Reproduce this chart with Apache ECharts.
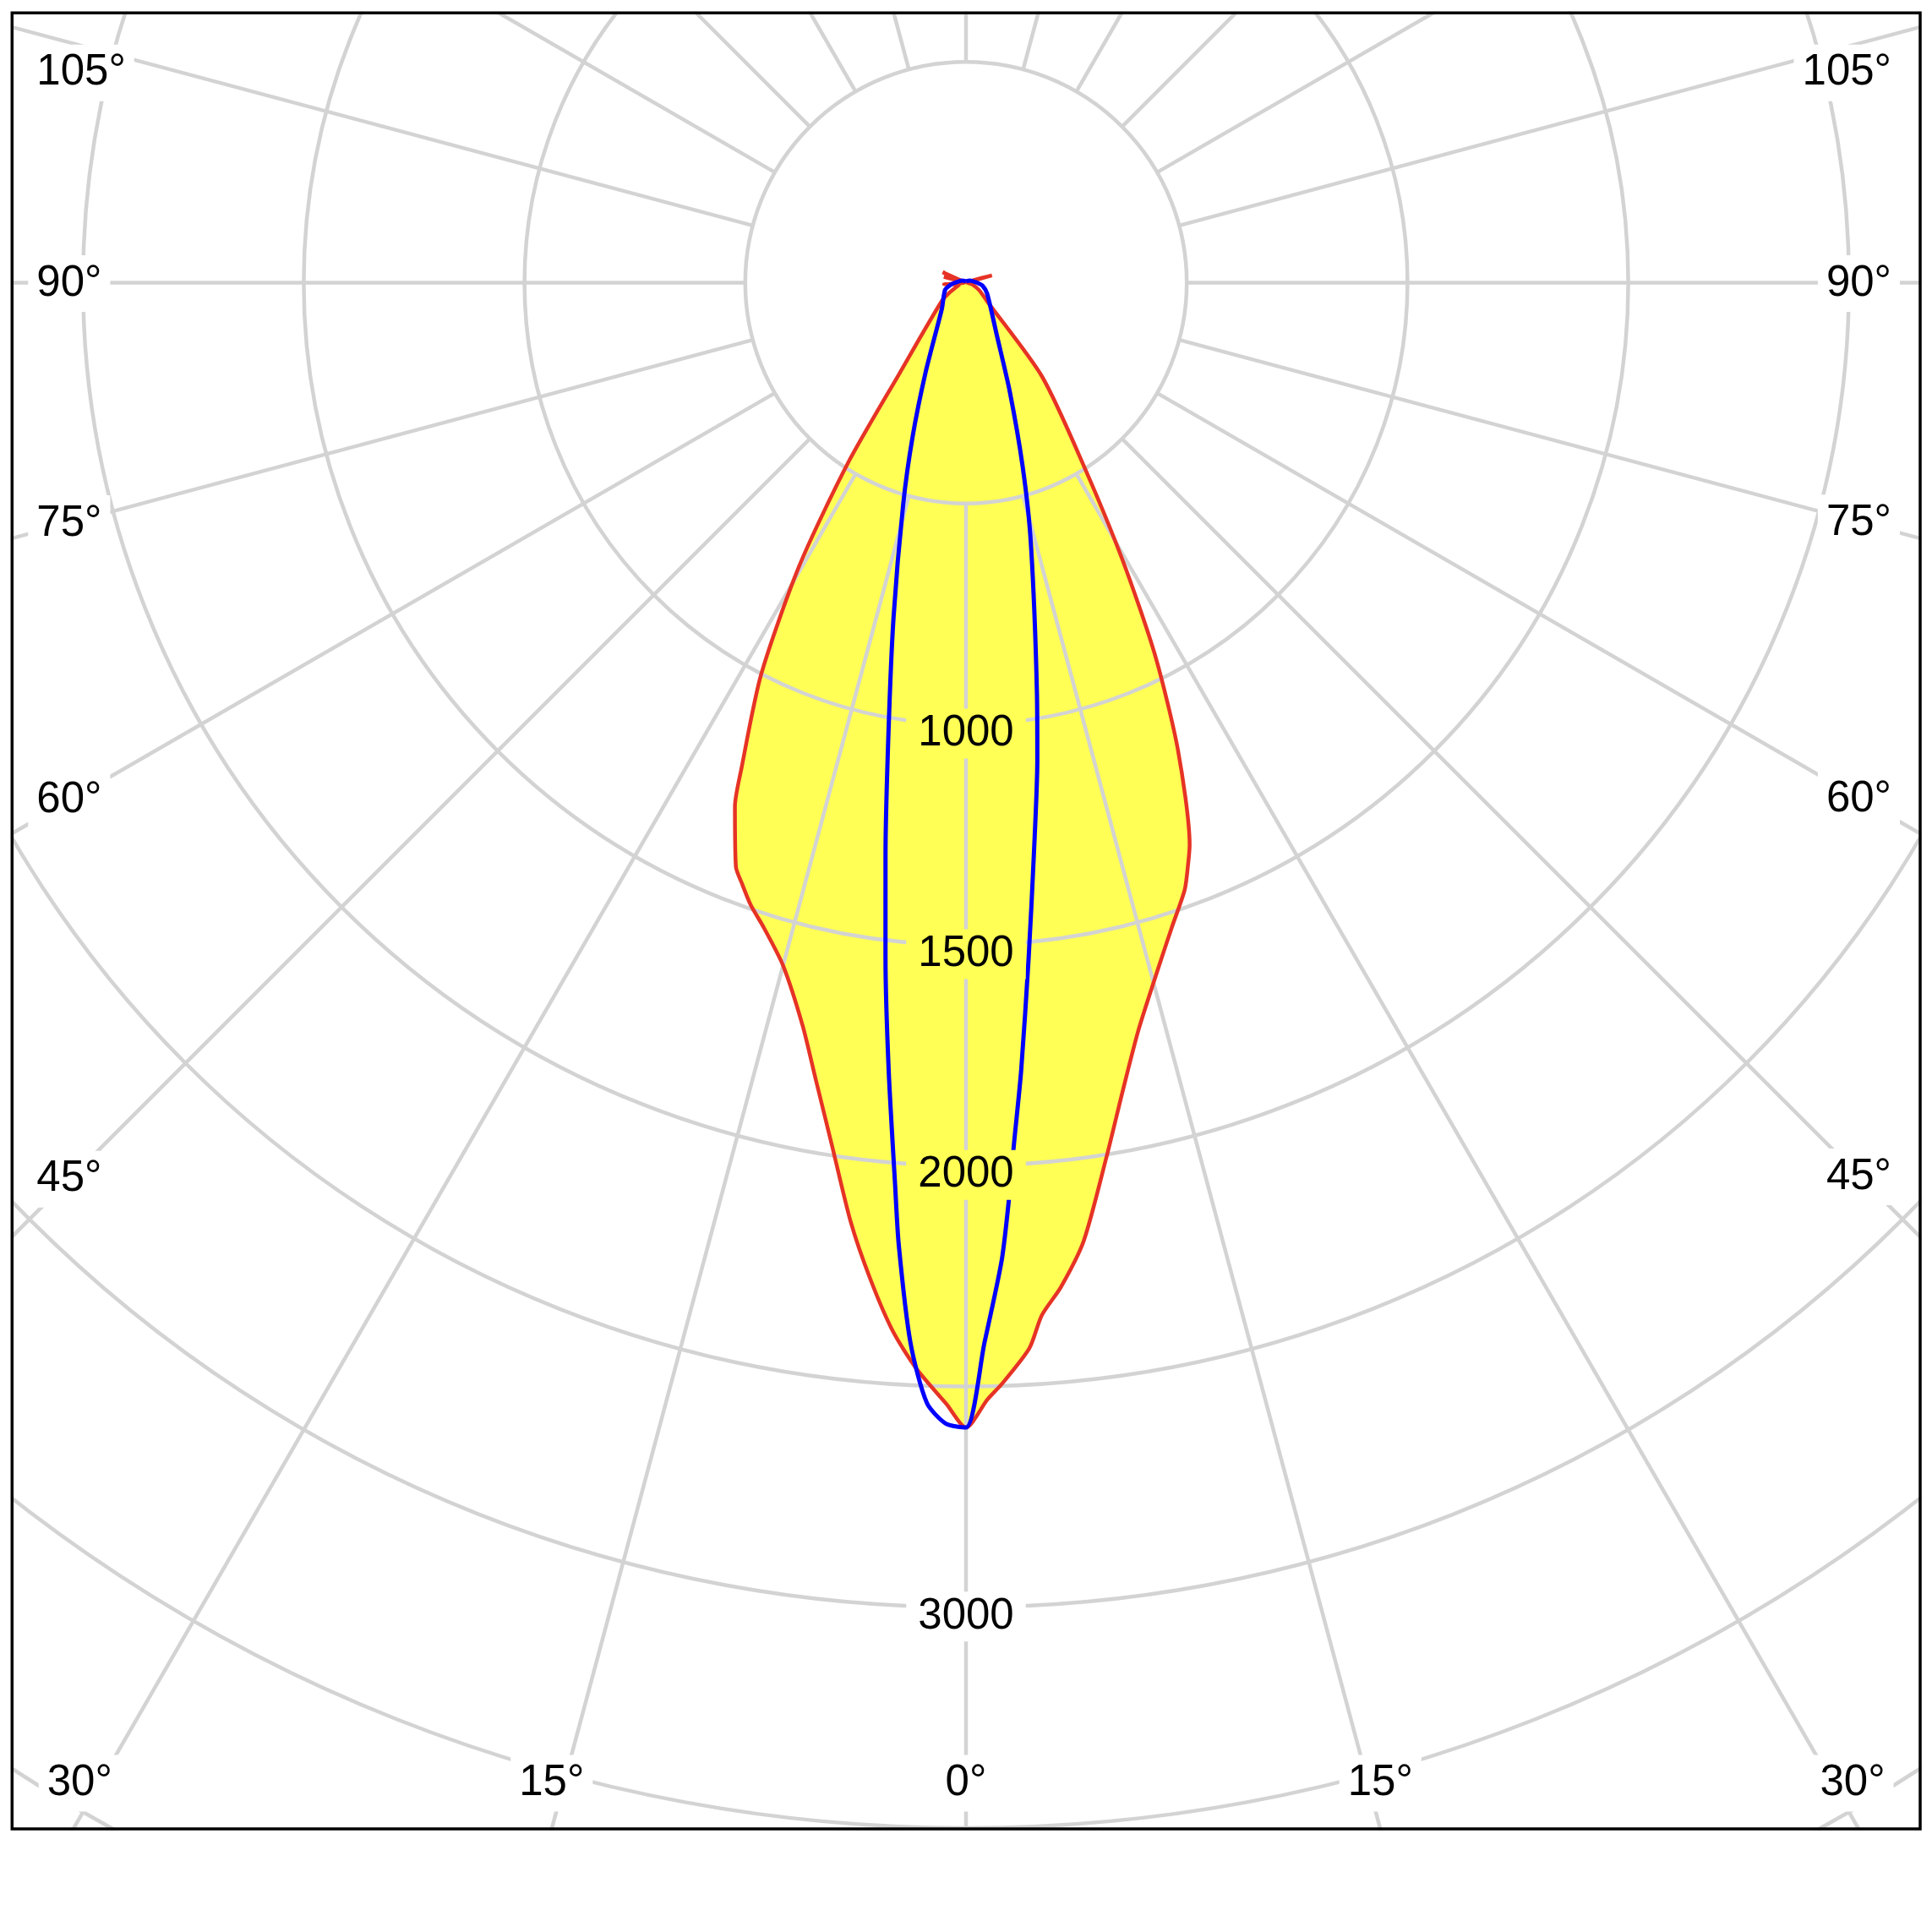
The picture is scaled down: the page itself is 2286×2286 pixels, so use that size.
<!DOCTYPE html>
<html>
<head>
<meta charset="utf-8">
<script src="https://cdn.jsdelivr.net/npm/echarts@6/dist/echarts.min.js"></script>
<style>html,body{margin:0;padding:0;background:#fff}#c{width:2286px;height:2286px}</style>
</head>
<body>
<div id="c"></div>
<script>
// ---- data (gamma angle in degrees from nadir, luminous intensity in cd) ----
const redLeftAngles  = [0,1,2.6,4,5.5,7,8.8,10.7,12.4,15,17.4,19.1,20.5,21.5,23.8,24.8,27.6,30.5,33.2,36.3,52.8,60,75,86,95,105,110,114,120,180];
const redLeftValues  = [2593,2540,2463,2380,2266,2143,1980,1835,1723,1601,1531,1491,1451,1422,1297,1213,1002,743,489,253,69,40,15,50,3,52,3,58,0,0];
const redRightAngles = [0,1.1,1.9,3.4,4.2,5.4,7,9.1,11,13,15.8,17.7,19.8,20.8,21.7,24.4,26.9,29.4,32.7,39,48.8,60,75,90,105.7,112,180];
const redRightValues = [2593,2530,2494,2418,2345,2285,2187,2008,1863,1737,1607,1533,1462,1415,1370,1162,947,725,496,274,63,35,15,3,61,0,0];
const blueLeftAngles  = [0,1,2,3,4,4.5,5.6,6.8,8,9.8,12.2,15.8,19.1,24.2,43,71,84,90,120,180];
const blueLeftValues  = [2593,2585,2539,2404,2184,2048,1794,1540,1310,1031,777,523,370,224,80,50,33,25,10,3];
const blueRightAngles = [0,1,2.1,2.75,3.2,4,5.3,6.8,8.5,9.8,14,17.1,21.9,30.4,62.6,80,90,120,180];
const blueRightValues = [2593,2401,2214,2062,1951,1790,1536,1300,1093,944,607,437,266,138,54,38,25,10,3];
const radiusLabelValues = [1000,1500,2000,3000];
const angleLabelValues  = [0,15,30,45,60,75,90,105];

// ---- layout / style ----
const FONT = '"Liberation Sans", Arial, sans-serif';
const CX = 1143, CY = 334.5, R500 = 261.2;
const FRAME = {l:14.3, t:15.3, r:2272, b:2164};
const GRID = '#d3d3d3', RED = '#e63325', BLUE = '#0000ff', YELLOW = '#ffff55';

function combine(lA, lV, rA, rV) {
  const pts = [];
  for (let i = lA.length - 1; i >= 0; i--) pts.push([lV[i], lA[i]]);
  for (let i = 0; i < rA.length; i++) pts.push([rV[i], 360 - rA[i]]);
  return pts;
}
const redData = combine(redLeftAngles, redLeftValues, redRightAngles, redRightValues);
const blueData = combine(blueLeftAngles, blueLeftValues, blueRightAngles, blueRightValues);

const chart = echarts.init(document.getElementById('c'), null, {renderer:'canvas', width:2286, height:2286});

const option = {
  animation: false,
  backgroundColor: '#fff',
  polar: [
    {center:[CX, CY], radius:[R500, R500 * 9]},
    {center:[CX, CY], radius:[0, R500 * 9]}
  ],
  angleAxis: [
    {polarIndex:0, type:'value', min:0, max:360, interval:15, startAngle:270, z:3,
     axisLine:{show:false}, axisTick:{show:false}, axisLabel:{show:false},
     splitLine:{show:true, lineStyle:{color:GRID, width:4.5}}},
    {polarIndex:1, type:'value', min:0, max:360, startAngle:270, show:false}
  ],
  radiusAxis: [
    {polarIndex:0, type:'value', min:500, max:4500, interval:500, z:3,
     axisLine:{show:false}, axisTick:{show:false}, axisLabel:{show:false},
     splitLine:{show:true, lineStyle:{color:GRID, width:4.5}}},
    {polarIndex:1, type:'value', min:0, max:4500, show:false}
  ],
  series: [
    {type:'line', coordinateSystem:'polar', polarIndex:1, data:redData, smooth:0.25, symbol:'none', z:1,
     lineStyle:{width:0, opacity:0}, areaStyle:{color:YELLOW, opacity:1}},
    {type:'line', coordinateSystem:'polar', polarIndex:1, data:redData, smooth:0.25, symbol:'none', z:5,
     lineStyle:{color:RED, width:4.5}},
    {type:'line', coordinateSystem:'polar', polarIndex:1, data:blueData, smooth:0.25, symbol:'none', z:6,
     lineStyle:{color:BLUE, width:5}},
    {type:'scatter', coordinateSystem:'polar', polarIndex:1, symbol:'circle', symbolSize:1, z:8,
     itemStyle:{color:'rgba(0,0,0,0)'},
     data: radiusLabelValues.map(v => ({value:[v, 0],
       label:{backgroundColor: v <= 2000 ? YELLOW : '#fff', color:'#000', opacity:1}})),
     label:{show:true, position:'inside', formatter: p => String(p.value[0]),
       fontFamily:FONT, fontSize:51, color:'#000', textBorderWidth:0, padding:[4,14], offset:[0,11]}}
  ]
};
chart.setOption(option);

function clamp(v, a, b) { return Math.max(a, Math.min(b, v)); }
function angleLabel(a, side) {
  const ang = side > 0 ? 360 - a : a;
  const c = chart.convertToPixel({seriesIndex:0}, [0, ang]);
  const p = chart.convertToPixel({seriesIndex:0}, [1000, ang]);
  const dx = p[0] - c[0], dy = p[1] - c[1];
  const len = Math.hypot(dx, dy);
  const ux = dx / len, uy = dy / len;
  const tx = Math.abs(ux) > 1e-6 ? (ux < 0 ? (FRAME.l - c[0]) / ux : (FRAME.r - c[0]) / ux) : Infinity;
  const ty = uy > 1e-6 ? (FRAME.b - c[1]) / uy : (uy < -1e-6 ? (FRAME.t - c[1]) / uy : Infinity);
  let x, y, align;
  if (tx < ty) {
    const xMid = ux < 0 ? FRAME.l + 69 : FRAME.r - 72;
    y = clamp(c[1] + uy * ((xMid - c[0]) / ux), FRAME.t + 70, FRAME.b - 55);
    x = ux < 0 ? FRAME.l + 19 : FRAME.r - 24;
    align = ux < 0 ? 'left' : 'right';
  } else {
    x = clamp(c[0] + ux * ty, FRAME.l + 80, FRAME.r - 80);
    y = FRAME.b - 55;
    align = 'center';
  }
  return {type:'text', x:x, y:y + 1, z:60,
    style:{text: a + '°', font: '51px ' + FONT, fill:'#000', align:align, verticalAlign:'middle',
           backgroundColor:'#fff', padding:[8,10]}};
}

const graphics = [];
angleLabelValues.forEach(a => {
  if (a === 0) graphics.push(angleLabel(0, 0));
  else { graphics.push(angleLabel(a, -1)); graphics.push(angleLabel(a, 1)); }
});
// white masks outside the frame and the frame itself
graphics.push({type:'rect', z:90, shape:{x:0, y:0, width:2286, height:FRAME.t - 1.5}, style:{fill:'#fff'}});
graphics.push({type:'rect', z:90, shape:{x:0, y:0, width:FRAME.l - 1.5, height:2286}, style:{fill:'#fff'}});
graphics.push({type:'rect', z:90, shape:{x:FRAME.r + 1.5, y:0, width:2286, height:2286}, style:{fill:'#fff'}});
graphics.push({type:'rect', z:90, shape:{x:0, y:FRAME.b + 1.5, width:2286, height:2286}, style:{fill:'#fff'}});
graphics.push({type:'rect', z:95, shape:{x:FRAME.l, y:FRAME.t, width:FRAME.r - FRAME.l, height:FRAME.b - FRAME.t},
  style:{fill:'none', stroke:'#000', lineWidth:3.5}});
chart.setOption({graphic: graphics});
</script>
</body>
</html>
